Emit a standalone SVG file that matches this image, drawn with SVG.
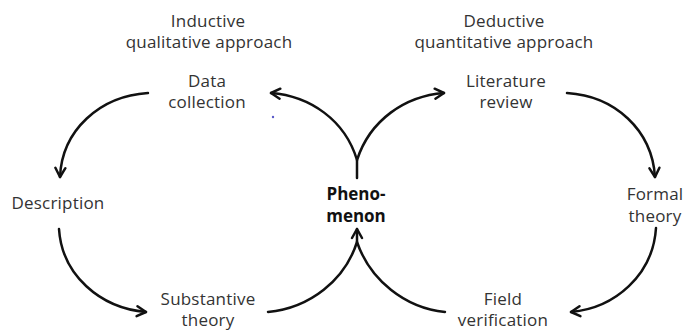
<svg xmlns="http://www.w3.org/2000/svg" width="683" height="331" viewBox="0 0 683 331">
<style>
.t{font-family:"Open Sans","Liberation Sans",sans-serif;font-size:17px;fill:#333;text-anchor:middle;letter-spacing:0.2px}
.b{font-weight:bold;fill:#111;letter-spacing:0}
.c{fill:none;stroke:#111;stroke-width:2.5;stroke-linecap:round}
.a{marker-end:url(#ah)}
</style>
<defs>
<marker id="ah" viewBox="-12 -7 14 14" refX="0" refY="0" markerWidth="14" markerHeight="14" markerUnits="userSpaceOnUse" orient="auto">
<path d="M-9,-5 L0,0 L-9,5" fill="none" stroke="#111" stroke-width="2.5" stroke-linecap="round" stroke-linejoin="round"/>
</marker>
</defs>
<rect width="683" height="331" fill="#fff"/>
<g id="heading-inductive"><text class="t" x="208" y="27">Inductive</text><text class="t" x="209" y="48">qualitative approach</text></g>
<g id="heading-deductive"><text class="t" x="504" y="27">Deductive</text><text class="t" x="504" y="48">quantitative approach</text></g>
<g id="node-data"><text class="t" x="207" y="87">Data</text><text class="t" x="207" y="108">collection</text></g>
<g id="node-literature"><text class="t" x="506" y="87">Literature</text><text class="t" x="506" y="108">review</text></g>
<g id="node-description"><text class="t" x="58" y="209">Description</text></g>
<g id="node-phenomenon"><text class="t b" x="356" y="200">Pheno-</text><text class="t b" x="356" y="222">menon</text></g>
<g id="node-formal"><text class="t" x="655" y="200">Formal</text><text class="t" x="655" y="222">theory</text></g>
<g id="node-substantive"><text class="t" x="208" y="305">Substantive</text><text class="t" x="208" y="326">theory</text></g>
<g id="node-field"><text class="t" x="503" y="305">Field</text><text class="t" x="503" y="326">verification</text></g>
<g id="connectors">
<path class="c a" d="M357,178 L357,160 C345,120 310,96 271,93"/>
<path class="c a" d="M357,160 C370,120 405,96 444,93"/>
<path class="c a" d="M148,93 C100,96 62,130 60,177"/>
<path class="c a" d="M59,229 C62,275 100,308 146,312"/>
<path class="c" d="M445,312 C405,308 370,280 357,242"/>
<path class="c a" d="M268,312 C310,308 345,280 357,242 L357,229"/>
<path class="c a" d="M567,93 C615,96 652,130 655,177"/>
<path class="c a" d="M656,228 C653,275 615,308 571,312"/>
</g>
<circle cx="273" cy="117" r="1.2" fill="#5a5ac8"/>
</svg>
